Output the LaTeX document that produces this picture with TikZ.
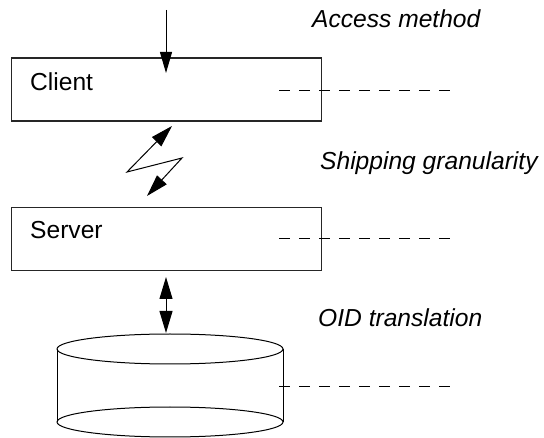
\documentclass[tikz,border=0pt]{standalone}
\usepackage{fontspec}
\setmainfont{Liberation Sans}
\usetikzlibrary{arrows.meta}
\begin{document}
\begin{tikzpicture}[x=1pt,y=-1pt,
  box/.style={draw=black!85, line width=1.3pt, minimum width=310pt, minimum height=63pt,
              inner sep=0pt, anchor=north west},
  lbl/.style={font=\fontsize{24.6}{29}\selectfont, inner sep=0pt, anchor=base west},
  note/.style={lbl, font=\fontsize{24.6}{29}\selectfont\itshape},
  guide/.style={line width=1pt, dash pattern=on 11pt off 9pt},
  cyl/.style={line width=1pt},
  conn/.style={line width=1pt, -{Triangle[length=21pt,width=12pt]}},
  both/.style={line width=1pt, {Triangle[length=22pt,width=13pt]}-{Triangle[length=22pt,width=13pt]}}
]
\useasboundingbox (0,0) rectangle (544,438);

% layers
\node[box] (client) at (11,57.5) {};
\node[box] (server) at (11,207) {};
\node[lbl] (clientlbl) at (30,91) {Client};
\node[lbl] (serverlbl) at (30,239) {Server};

% storage cylinder
\coordinate (disktop) at (170,334);
\draw[cyl] (170,349) ellipse [x radius=113pt, y radius=15pt];
\draw[cyl] (170,422) ellipse [x radius=113pt, y radius=15pt];
\draw[cyl] (57,349) -- (57,422);
\draw[cyl] (283,349) -- (283,422);

% access into the client
\coordinate (entry) at (166,10);
\coordinate (clientin) at (166,73);
\draw[conn] (entry) -- (clientin);

% client <-> server shipping link
\coordinate (z1) at (172,126);
\coordinate (z2) at (127,172);
\coordinate (z3) at (182,158);
\coordinate (z4) at (147,196);
\draw[both] (z1) -- (z2) -- (z3) -- (z4);

% server <-> storage
\coordinate (serverout) at (166,277);
\coordinate (diskin) at (166,333);
\draw[both] (serverout) -- (diskin);

% level guides
\draw[guide] (279,91) -- (451,91);
\draw[guide] (279,239) -- (451,239);
\draw[guide] (279,387) -- (451,387);

% annotations
\node[note] (access) at (312,28) {Access method};
\node[note] (shipping) at (320,170) {Shipping granularity};
\node[note] (oid) at (318,327) {OID translation};
\end{tikzpicture}
\end{document}
